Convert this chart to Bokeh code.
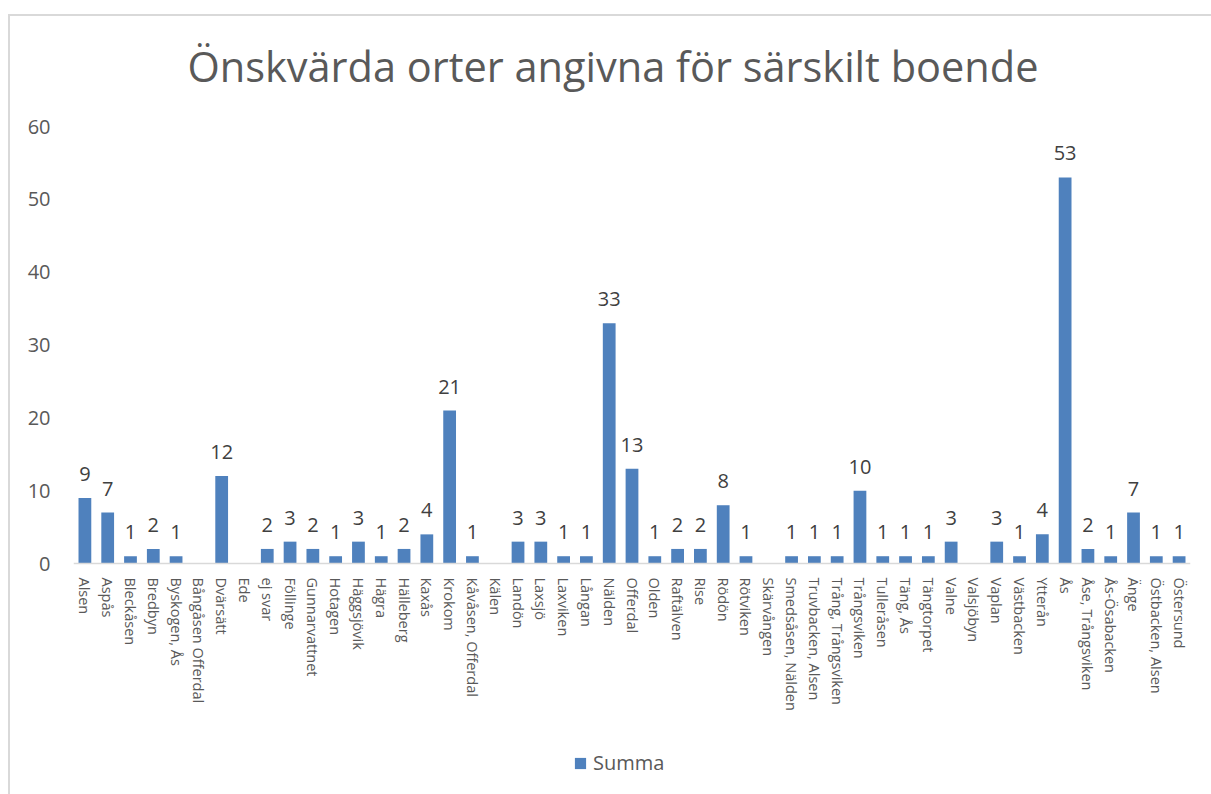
from bokeh.plotting import figure
from bokeh.models import ColumnDataSource, FactorRange, Range1d, LabelSet, Legend, LegendItem
from bokeh.core.properties import value
from bokeh.embed import file_html
from bokeh.resources import INLINE

categories = ["Alsen", "Aspås", "Bleckåsen", "Bredbyn", "Byskogen, Ås", "Bångåsen Offerdal",
              "Dvärsätt", "Ede", "ej svar", "Föllinge", "Gunnarvattnet", "Hotagen", "Häggsjövik",
              "Hägra", "Hälleberg", "Kaxås", "Krokom", "Kåvåsen, Offerdal", "Kälen", "Landön",
              "Laxsjö", "Laxviken", "Långan", "Nälden", "Offerdal", "Olden", "Raftälven", "Rise",
              "Rödön", "Rötviken", "Skärvången", "Smedsåsen, Nälden", "Truvbacken, Alsen",
              "Trång, Trångsviken", "Trångsviken", "Tulleråsen", "Täng, Ås", "Tängtorpet", "Valne",
              "Valsjöbyn", "Vaplan", "Västbacken", "Ytterån", "Ås", "Åse, Trångsviken",
              "Ås-Ösabacken", "Änge", "Östbacken, Alsen", "Östersund"]
values = [9, 7, 1, 2, 1, 0,
          12, 0, 2, 3, 2, 1, 3,
          1, 2, 4, 21, 1, 0, 3,
          3, 1, 1, 33, 13, 1, 2, 2,
          8, 1, 0, 1, 1,
          1, 10, 1, 1, 1, 3,
          0, 3, 1, 4, 53, 2,
          1, 7, 1, 1]
series_name = "Summa"
title_text = "Önskvärda orter angivna för särskilt boende"
y_ticks = [0, 10, 20, 30, 40, 50, 60]

FONT = "Open Sans"
BAR = "#4F81BD"
W, H = 1211, 794
TOP, Y0 = 126, 563            # pixel rows of the value 60 and of the value 0
Y_MAX = 60
px_per_unit = (Y0 - TOP) / Y_MAX
y_start = -(H - Y0) / px_per_unit   # frame runs on below the axis to hold the legend

nz = [(c, v) for c, v in zip(categories, values) if v]
src = ColumnDataSource(dict(cat=[c for c, _ in nz], val=[v for _, v in nz],
                            lab=[str(v) for _, v in nz]))

p = figure(x_range=FactorRange(factors=categories), y_range=Range1d(y_start, Y_MAX),
           width=W, height=H, output_backend="svg", toolbar_location=None,
           min_border_left=73, min_border_right=21, min_border_top=TOP,
           min_border_bottom=0)
p.outline_line_color = None
p.xgrid.grid_line_color = None
p.ygrid.grid_line_color = None
p.border_fill_color = None
p.background_fill_color = None
# light chart-area border (top and left edges), painted behind the transparent canvas
p.styles = {
    "background-color": "white",
    "background-image": "linear-gradient(#d9d9d9, #d9d9d9), linear-gradient(#d9d9d9, #d9d9d9)",
    "background-position": "9px 14px, 8px 14px",
    "background-size": "100% 2px, 2px 100%",
    "background-repeat": "no-repeat",
}

r = p.vbar(x="cat", top="val", width=0.56, source=src, color=BAR, line_color=None)

p.add_layout(LabelSet(x="cat", y="val", text="lab", source=src, text_align="center",
                      text_baseline="bottom", y_offset=17, text_font=value(FONT),
                      text_font_size="20px", text_color="#404040"))

p.title.text = title_text
p.title.align = "left"
p.title.offset = 114
p.title.text_font = FONT
p.title.text_font_size = "41.5px"
p.title.text_font_style = "normal"
p.title.text_color = "#595959"
p.title.standoff = 66

ya = p.yaxis[0]
ya.ticker = y_ticks
ya.axis_line_color = None
ya.major_tick_line_color = None
ya.minor_tick_line_color = None
ya.major_label_standoff = 17
ya.major_label_text_font = FONT
ya.major_label_text_font_size = "20px"
ya.major_label_text_color = "#595959"

xa = p.xaxis[0]
xa.fixed_location = 0
xa.axis_line_color = "#d9d9d9"
xa.axis_line_width = 1.5
xa.major_tick_line_color = None
xa.minor_tick_line_color = None
xa.major_label_orientation = "vertical"
xa.major_label_standoff = 8
xa.major_label_text_font = FONT
xa.major_label_text_font_size = "14.5px"
xa.major_label_text_color = "#595959"

legend = Legend(items=[LegendItem(label=series_name, renderers=[r])], location=(500, 18),
                orientation="horizontal", border_line_color=None, background_fill_alpha=0,
                glyph_width=14, glyph_height=14, label_standoff=6, label_text_font=FONT,
                label_text_font_size="20px", label_text_color="#595959", margin=0, padding=0)
p.add_layout(legend, "center")

open("out.html", "w").write(file_html(p, INLINE))
